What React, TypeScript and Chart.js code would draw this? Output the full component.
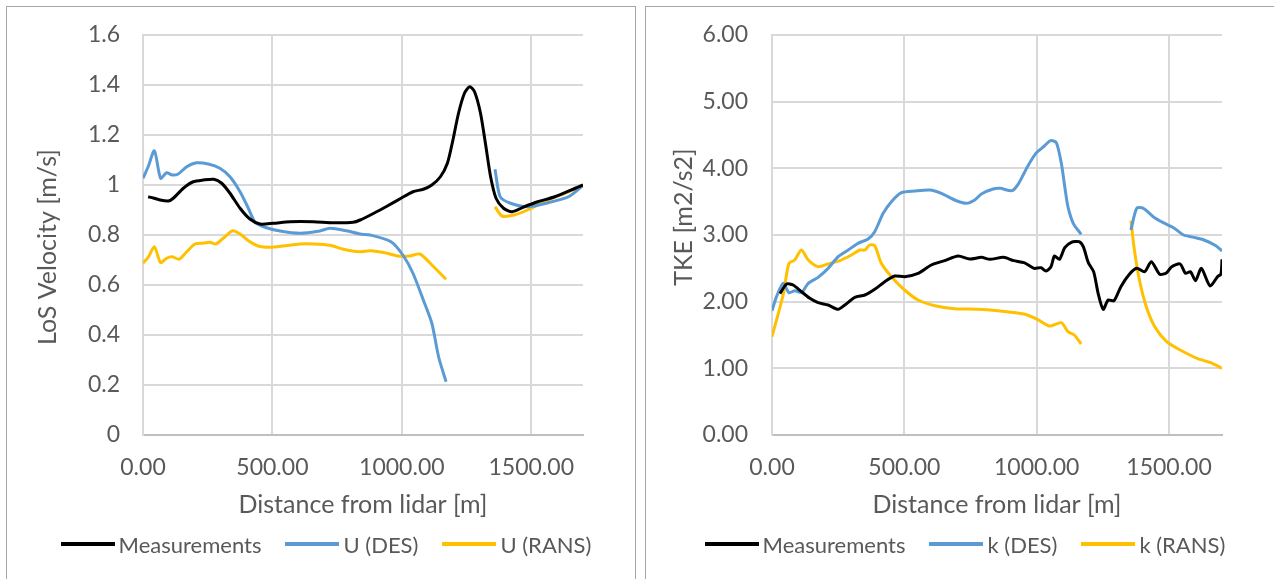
import React, { useEffect, useRef } from "react";
import { Chart, registerables } from "chart.js";

Chart.register(...registerables);

// ---------- data: left chart (LoS velocity) ----------
const measDistL = [20, 40, 66, 98, 117, 156, 194, 233, 274, 304, 336, 375, 413, 452, 503, 568, 658, 735, 812, 839, 892, 944, 997, 1043, 1083, 1116, 1149, 1176, 1196, 1219, 1242, 1262, 1281, 1304, 1325, 1343, 1364, 1393, 1426, 1473, 1525, 1591, 1670, 1700];
const measVelL = [0.953, 0.948, 0.94, 0.936, 0.947, 0.987, 1.013, 1.02, 1.023, 1.007, 0.967, 0.907, 0.864, 0.844, 0.847, 0.853, 0.853, 0.849, 0.851, 0.86, 0.887, 0.916, 0.947, 0.973, 0.983, 1.0, 1.033, 1.087, 1.173, 1.287, 1.367, 1.393, 1.373, 1.287, 1.153, 1.033, 0.947, 0.907, 0.893, 0.913, 0.933, 0.953, 0.987, 1.0];

const uDesDist = [0, 20, 44, 68, 91, 113, 136, 169, 207, 252, 297, 336, 375, 407, 432, 471, 529, 606, 683, 722, 786, 838, 878, 958, 1004, 1043, 1083, 1116, 1142, 1171, 1265, 1360, 1380, 1420, 1486, 1565, 1644, 1700];
const uDesVel = [1.027, 1.073, 1.137, 1.027, 1.049, 1.04, 1.044, 1.073, 1.089, 1.084, 1.067, 1.033, 0.973, 0.907, 0.853, 0.831, 0.816, 0.807, 0.816, 0.827, 0.817, 0.804, 0.8, 0.773, 0.72, 0.647, 0.54, 0.447, 0.313, 0.213, null, 1.063, 0.953, 0.927, 0.913, 0.929, 0.953, 0.998];

const uRansDist = [0, 20, 44, 68, 91, 113, 140, 169, 201, 233, 259, 282, 317, 346, 375, 407, 445, 490, 542, 606, 658, 722, 774, 838, 878, 944, 984, 1030, 1070, 1116, 1171, 1265, 1360, 1387, 1434, 1486, 1565, 1644, 1700];
const uRansVel = [0.687, 0.711, 0.753, 0.689, 0.707, 0.713, 0.703, 0.733, 0.764, 0.767, 0.771, 0.764, 0.793, 0.817, 0.804, 0.777, 0.756, 0.751, 0.756, 0.764, 0.764, 0.759, 0.743, 0.733, 0.737, 0.727, 0.716, 0.716, 0.724, 0.68, 0.623, null, 0.913, 0.876, 0.88, 0.9, 0.94, 0.973, 1.0];

// ---------- data: right chart (TKE) ----------
const measDistK = [30, 55, 80, 111, 143, 174, 212, 250, 275, 313, 351, 388, 426, 464, 501, 552, 602, 652, 703, 747, 791, 823, 875, 913, 952, 990, 1016, 1035, 1054, 1067, 1086, 1106, 1131, 1160, 1176, 1195, 1215, 1232, 1251, 1270, 1292, 1318, 1350, 1378, 1408, 1433, 1465, 1491, 1510, 1542, 1562, 1581, 1600, 1622, 1655, 1683, 1696, 1700];
const measTke = [2.12, 2.265, 2.25, 2.15, 2.05, 1.985, 1.95, 1.885, 1.95, 2.065, 2.1, 2.185, 2.3, 2.385, 2.375, 2.425, 2.55, 2.615, 2.685, 2.64, 2.665, 2.635, 2.665, 2.615, 2.585, 2.5, 2.51, 2.46, 2.525, 2.685, 2.635, 2.81, 2.89, 2.9, 2.825, 2.585, 2.45, 2.125, 1.885, 2.025, 2.015, 2.225, 2.41, 2.5, 2.45, 2.6, 2.41, 2.435, 2.525, 2.565, 2.425, 2.45, 2.315, 2.5, 2.235, 2.375, 2.415, 2.635];

const kDesDist = [0, 17, 42, 64, 86, 111, 137, 174, 212, 250, 288, 325, 363, 388, 420, 451, 489, 539, 596, 640, 690, 734, 766, 791, 835, 862, 907, 932, 965, 997, 1029, 1052, 1074, 1093, 1106, 1118, 1138, 1168, 1260, 1356, 1378, 1403, 1440, 1478, 1517, 1555, 1594, 1632, 1677, 1700];
const kDesTke = [1.865, 2.075, 2.275, 2.135, 2.165, 2.135, 2.275, 2.365, 2.5, 2.675, 2.775, 2.875, 2.94, 3.05, 3.325, 3.5, 3.635, 3.66, 3.675, 3.625, 3.525, 3.475, 3.525, 3.615, 3.69, 3.7, 3.665, 3.775, 4.025, 4.225, 4.335, 4.415, 4.385, 4.075, 3.725, 3.425, 3.175, 3.01, null, 3.075, 3.4, 3.4, 3.275, 3.185, 3.11, 3.0, 2.965, 2.925, 2.84, 2.76];

const kRansDist = [0, 42, 64, 86, 111, 137, 174, 212, 256, 300, 332, 351, 369, 388, 413, 451, 501, 552, 615, 690, 778, 854, 888, 952, 1003, 1048, 1093, 1118, 1142, 1168, 1260, 1356, 1369, 1388, 1414, 1446, 1491, 1542, 1606, 1657, 1700];
const kRansTke = [1.475, 2.1, 2.575, 2.625, 2.775, 2.625, 2.525, 2.565, 2.615, 2.7, 2.775, 2.775, 2.85, 2.84, 2.575, 2.375, 2.175, 2.025, 1.94, 1.895, 1.885, 1.865, 1.85, 1.815, 1.735, 1.635, 1.685, 1.55, 1.5, 1.365, null, 3.215, 2.775, 2.325, 1.925, 1.625, 1.4, 1.275, 1.15, 1.085, 1.0];

// ---------- ticks ----------
const xTicks = [0, 500, 1000, 1500];
const xTickLabels = ["0.00", "500.00", "1000.00", "1500.00"];
const velTicks = [0, 0.2, 0.4, 0.6, 0.8, 1, 1.2, 1.4, 1.6];
const velTickLabels = ["0", "0.2", "0.4", "0.6", "0.8", "1", "1.2", "1.4", "1.6"];
const tkeTicks = [0, 1, 2, 3, 4, 5, 6];
const tkeTickLabels = ["0.00", "1.00", "2.00", "3.00", "4.00", "5.00", "6.00"];

const leftNames = ["Measurements", "U (DES)", "U (RANS)"];
const rightNames = ["Measurements", "k (DES)", "k (RANS)"];
const colors = ["#000000", "#5b9bd5", "#ffc000"];

const FONT = "Lato";
const TICK_FS = 23;
const TITLE_FS = 25;
const LEGEND_FS = 22;
const TXT = "#595959";

function pts(xs: number[], ys: (number | null)[]) {
  return xs.map((x, i) => ({ x, y: ys[i] }));
}

type Cfg = {
  series: { name: string; xs: number[]; ys: (number | null)[]; color: string }[];
  yTicks: number[];
  yLabels: string[];
  yMax: number;
  yTitle: string;
  yTitleX: number;
  yTitleY: number;
  yWidth: number;
  padRight: number;
  yTickPad: number;
};

const yTitlePlugin = {
  id: "yTitleText",
  afterDraw(chart: any, _args: any, opts: any) {
    if (!opts || !opts.text) return;
    const ctx = chart.ctx;
    ctx.save();
    ctx.translate(opts.x, opts.y);
    ctx.rotate(-Math.PI / 2);
    ctx.font = `${TITLE_FS}px ${FONT}`;
    ctx.fillStyle = TXT;
    ctx.textAlign = "center";
    ctx.textBaseline = "middle";
    ctx.fillText(opts.text, 0, 0);
    ctx.restore();
  },
};

function buildConfig(c: Cfg): any {
  const tickFont = { family: FONT, size: TICK_FS };
  const titleFont = { family: FONT, size: TITLE_FS };
  return {
    type: "line",
    data: {
      datasets: c.series.map((s) => ({
        label: s.name,
        data: pts(s.xs, s.ys),
        borderColor: s.color,
        backgroundColor: s.color,
        borderWidth: 3,
        pointRadius: 0,
        tension: 0.25,
        spanGaps: false,
        fill: false,
      })),
    },
    plugins: [yTitlePlugin],
    options: {
      responsive: false,
      animation: false,
      devicePixelRatio: 1,
      layout: { padding: { left: 0, right: c.padRight, top: 35, bottom: 0 } },
      plugins: {
        legend: { display: false },
        tooltip: { enabled: false },
        yTitleText: { text: c.yTitle, x: c.yTitleX, y: c.yTitleY },
      },
      scales: {
        x: {
          type: "linear",
          min: 0,
          max: 1700,
          afterBuildTicks: (s: any) => {
            s.ticks = xTicks.map((v) => ({ value: v }));
          },
          afterFit: (s: any) => {
            s.height = 144;
            s.paddingLeft = 0;
            s.paddingRight = 0;
          },
          ticks: {
            padding: 19,
            color: TXT,
            font: tickFont,
            maxRotation: 0,
            autoSkip: false,
            callback: (_v: any, i: number) => xTickLabels[i],
          },
          grid: { color: "#d9d9d9", lineWidth: 2, drawTicks: false },
          border: { color: "#bfbfbf", width: 2 },
          title: {
            display: true,
            text: "Distance from lidar [m]",
            color: TXT,
            font: titleFont,
            padding: { top: 0, bottom: 59 },
          },
        },
        y: {
          type: "linear",
          min: 0,
          max: c.yMax,
          afterBuildTicks: (s: any) => {
            s.ticks = c.yTicks.map((v) => ({ value: v }));
          },
          afterFit: (s: any) => {
            s.width = c.yWidth;
            s.paddingTop = 0;
            s.paddingBottom = 0;
          },
          ticks: {
            padding: c.yTickPad,
            color: TXT,
            font: tickFont,
            autoSkip: false,
            callback: (_v: any, i: number) => c.yLabels[i],
          },
          grid: { color: "#d9d9d9", lineWidth: 2, drawTicks: false },
          border: { color: "#d9d9d9", width: 2 },
        },
      },
    },
  };
}

function ChartCanvas({ cfg, left, width }: { cfg: Cfg; left: number; width: number }) {
  const ref = useRef<HTMLCanvasElement | null>(null);
  useEffect(() => {
    if (!ref.current) return;
    const chart = new Chart(ref.current, buildConfig(cfg));
    return () => chart.destroy();
  }, []);
  return (
    <canvas
      ref={ref}
      width={width}
      height={579}
      style={{ position: "absolute", left, top: 0, width, height: 579, display: "block" }}
    />
  );
}

function Legend({ names, left, width }: { names: string[]; left: number; width: number }) {
  return (
    <div
      style={{
        position: "absolute",
        left,
        width,
        top: 530,
        height: 28,
        display: "flex",
        justifyContent: "center",
        alignItems: "center",
        fontFamily: FONT,
        fontSize: LEGEND_FS,
        color: TXT,
        whiteSpace: "nowrap",
      }}
    >
      {names.map((n, i) => (
        <div key={n} style={{ display: "flex", alignItems: "center", marginLeft: i === 0 ? 0 : 24 }}>
          <div style={{ width: 54, height: 4, background: colors[i] }} />
          <span style={{ marginLeft: 4 }}>{n}</span>
        </div>
      ))}
    </div>
  );
}

export default function App() {
  const leftCfg: Cfg = {
    series: [
      { name: leftNames[0], xs: measDistL, ys: measVelL, color: colors[0] },
      { name: leftNames[1], xs: uDesDist, ys: uDesVel, color: colors[1] },
      { name: leftNames[2], xs: uRansDist, ys: uRansVel, color: colors[2] },
    ],
    yTicks: velTicks,
    yLabels: velTickLabels,
    yMax: 1.6,
    yTitle: "LoS Velocity [m/s]",
    yTitleX: 48,
    yTitleY: 247,
    yWidth: 143,
    padRight: 640 - 583,
    yTickPad: 23,
  };
  const rightCfg: Cfg = {
    series: [
      { name: rightNames[0], xs: measDistK, ys: measTke, color: colors[0] },
      { name: rightNames[1], xs: kDesDist, ys: kDesTke, color: colors[1] },
      { name: rightNames[2], xs: kRansDist, ys: kRansTke, color: colors[2] },
    ],
    yTicks: tkeTicks,
    yLabels: tkeTickLabels,
    yMax: 6,
    yTitle: "TKE [m2/s2]",
    yTitleX: 44,
    yTitleY: 217,
    yWidth: 132,
    padRight: 634 - 582,
    yTickPad: 24,
  };
  return (
    <div
      style={{
        position: "absolute",
        left: 0,
        top: 0,
        width: 1274,
        height: 579,
        overflow: "hidden",
        background: "#ffffff",
      }}
    >
      <div
        style={{
          position: "absolute",
          left: 6,
          top: 6,
          width: 630,
          height: 640,
          border: "1px solid #a6a6a6",
          boxSizing: "border-box",
        }}
      />
      <div
        style={{
          position: "absolute",
          left: 645,
          top: 6,
          width: 700,
          height: 640,
          border: "1px solid #a6a6a6",
          boxSizing: "border-box",
        }}
      />
      <ChartCanvas cfg={leftCfg} left={0} width={640} />
      <ChartCanvas cfg={rightCfg} left={640} width={634} />
      <Legend names={leftNames} left={0} width={652} />
      <Legend names={rightNames} left={640} width={650} />
    </div>
  );
}
